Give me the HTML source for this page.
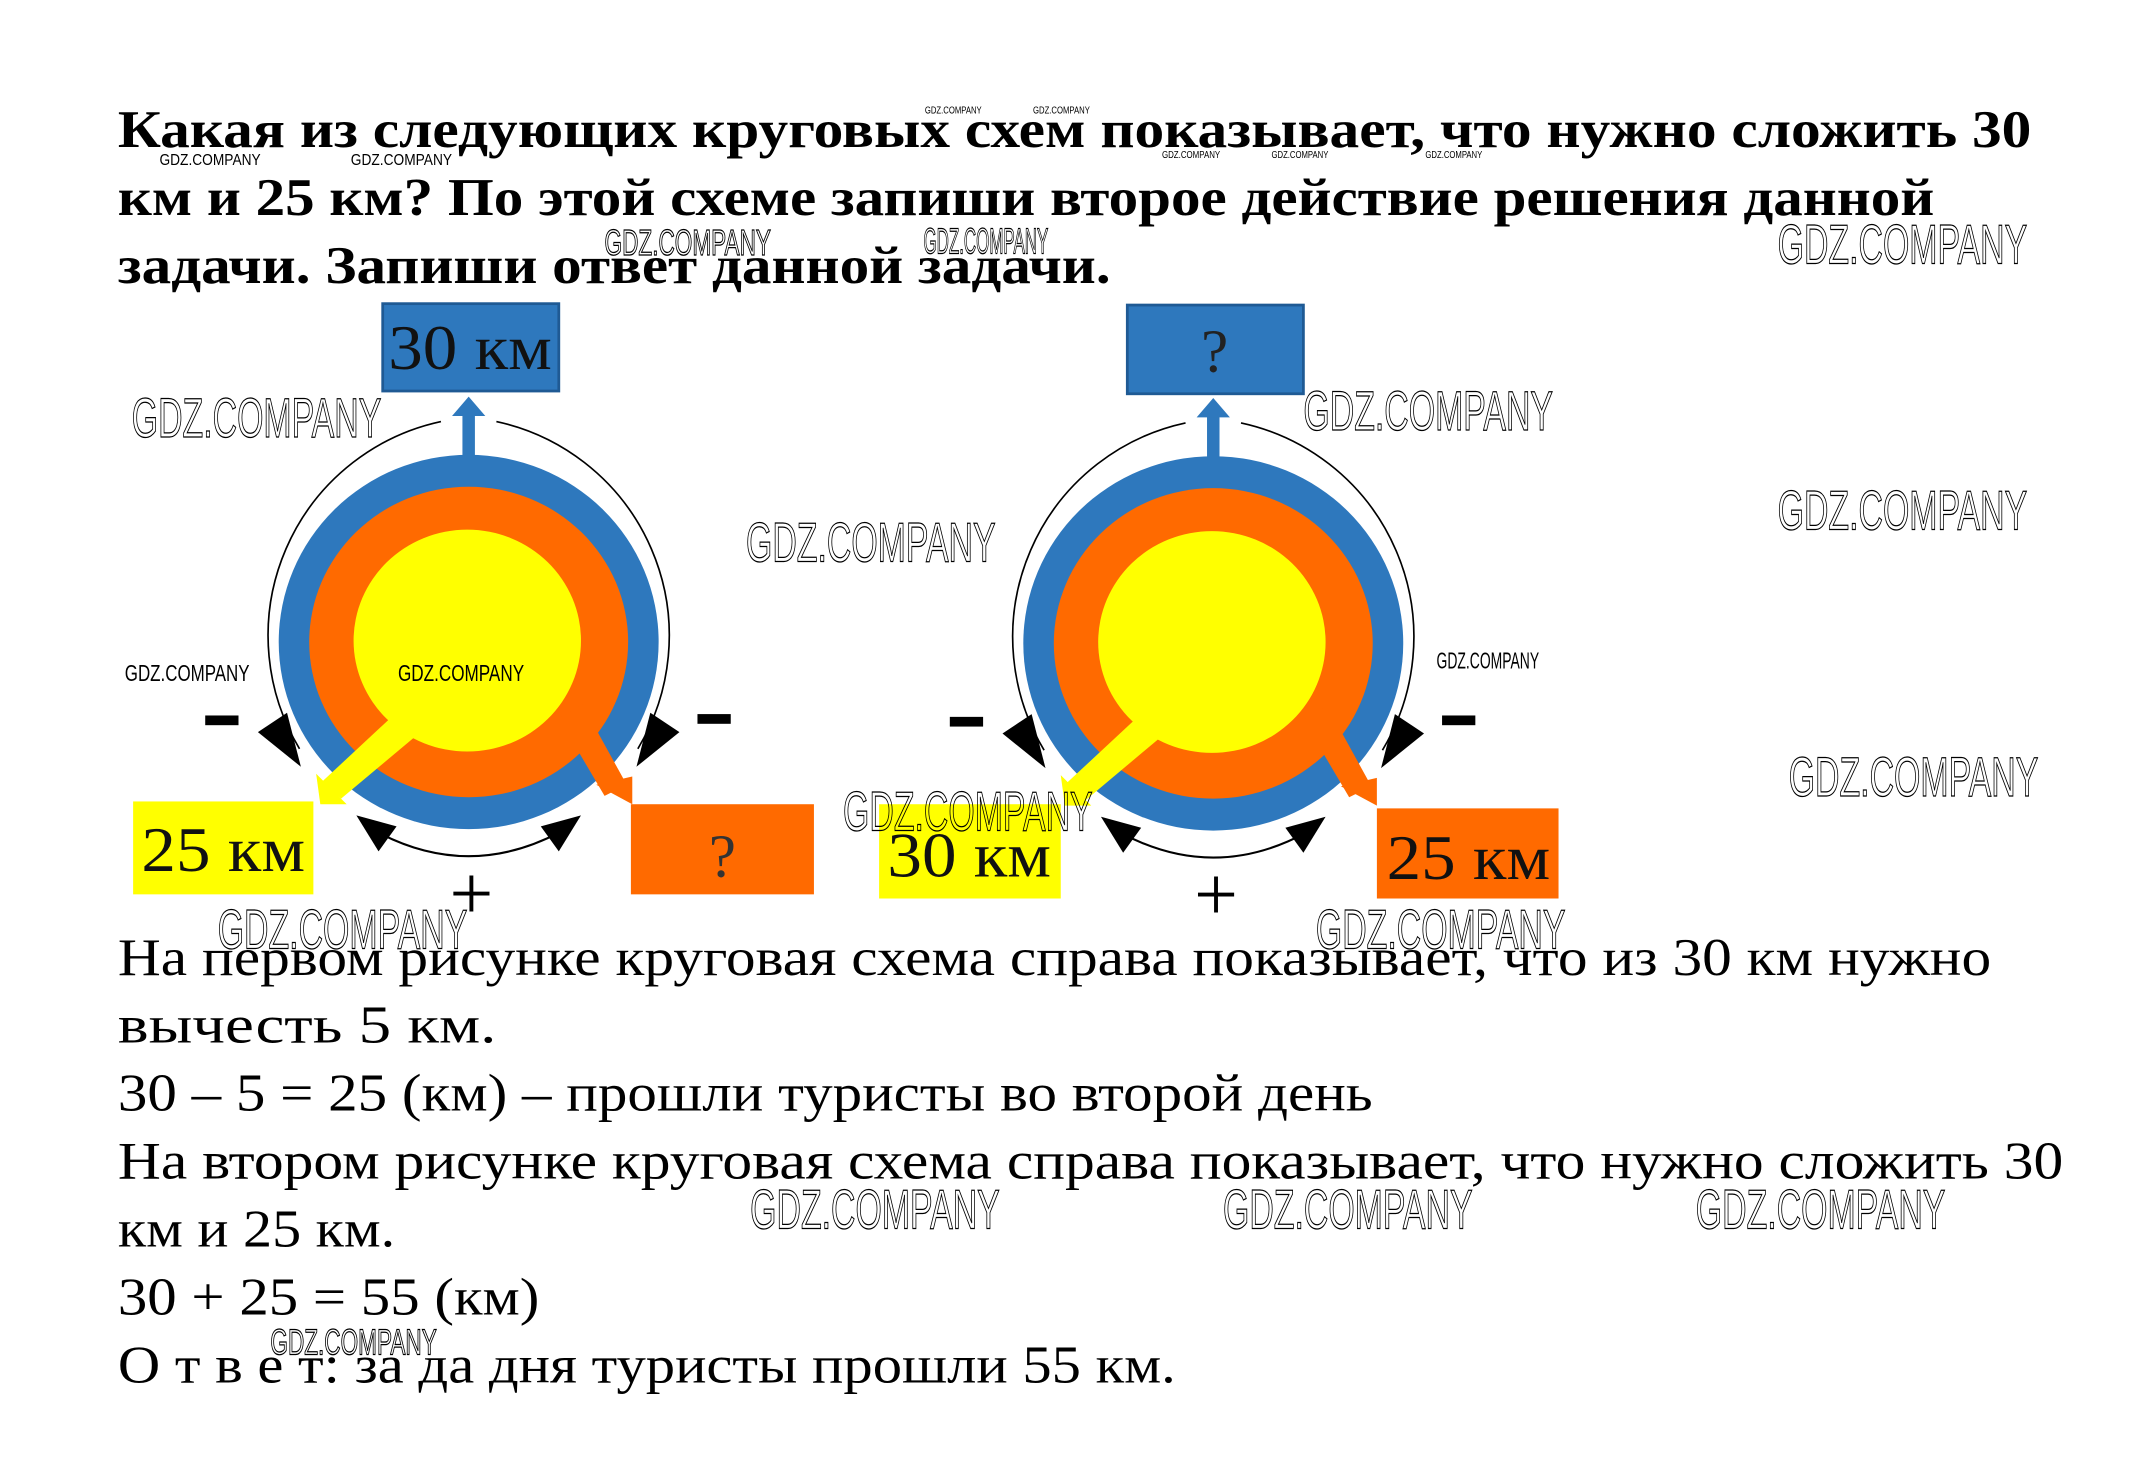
<!DOCTYPE html>
<html><head><meta charset="utf-8"><style>
html,body{margin:0;padding:0;background:#fff;}
svg{display:block;}
.t{font-family:"Liberation Serif","Noto Serif CJK SC",serif;}
.w{font-family:"Liberation Sans","DejaVu Sans",sans-serif;fill:none;stroke:#000;stroke-width:0.9;}
.ws{font-family:"Liberation Sans","DejaVu Sans",sans-serif;fill:#000;}
</style></head><body>
<svg width="2152" height="1458" viewBox="0 0 1552 1051.5" xmlns="http://www.w3.org/2000/svg">
<rect width="1552" height="1051.5" fill="#fff"/>
<!-- title -->
<g class="t" font-weight="bold" font-size="38" fill="#000">
<text x="85" y="106" textLength="1380" lengthAdjust="spacingAndGlyphs">Какая из следующих круговых схем показывает, что нужно сложить 30</text>
<text x="85" y="155" textLength="1310" lengthAdjust="spacingAndGlyphs">км и 25 км? По этой схеме запиши второе действие решения данной</text>
<text x="85" y="204" textLength="716" lengthAdjust="spacingAndGlyphs">задачи. Запиши ответ данной задачи.</text>
</g>
<!-- diagram template -->
<defs>
<g id="dg">
<line x1="338" y1="330" x2="338" y2="298" stroke="#2e78bd" stroke-width="9"/>
<polygon points="326,300 350,300 338,286" fill="#2e78bd"/>
<ellipse cx="338" cy="463" rx="137" ry="135" fill="#2e78bd"/>
<ellipse cx="338" cy="463" rx="115" ry="112" fill="#ff6a00"/>
<ellipse cx="337" cy="462" rx="82" ry="80" fill="#ffff00"/>
<path d="M318 304 A158 158 0 0 0 216 540" fill="none" stroke="#000" stroke-width="1.2"/>
<path d="M358 304 A158 158 0 0 1 460 540" fill="none" stroke="#000" stroke-width="1.2"/>
<polygon points="186,528 207,514 217,553" fill="#000"/>
<polygon points="490,528 469,514 459,553" fill="#000"/>
<path d="M272 600 Q338 635 404 600" fill="none" stroke="#000" stroke-width="1.5"/>
<polygon points="257,588 286,596 273,614" fill="#000"/>
<polygon points="419,588 390,596 403,614" fill="#000"/>
<rect x="148" y="516" width="24" height="7" fill="#000"/>
<rect x="503" y="515" width="24" height="7" fill="#000"/>
<text x="340" y="663" class="t" font-size="56" text-anchor="middle" fill="#000">+</text>
<polygon points="290,510 308,524 246,576 232,564" fill="#ffff00"/>
<polygon points="228,558 250,580 231,580" fill="#ffff00"/>
<polygon points="403,518 420,508 452,566 436,574" fill="#ff6a00"/>
<polygon points="430,566 456,560 456,580" fill="#ff6a00"/>
</g>
</defs>
<use href="#dg"/>
<use href="#dg" transform="translate(537,1)"/>
<!-- boxes left -->
<rect x="276" y="219" width="127" height="63" fill="#2e78bd" stroke="#1f5a94" stroke-width="2"/>
<text x="339" y="266" class="t" font-size="46" text-anchor="middle" fill="#111" textLength="118" lengthAdjust="spacingAndGlyphs">30 км</text>
<rect x="96" y="578" width="130" height="67" fill="#ffff00"/>
<text x="161" y="628" class="t" font-size="46" text-anchor="middle" fill="#111" textLength="118" lengthAdjust="spacingAndGlyphs">25 км</text>
<rect x="455" y="580" width="132" height="65" fill="#ff6a00"/>
<text x="521" y="632" class="t" font-size="44" text-anchor="middle" fill="#333">?</text>
<!-- boxes right -->
<rect x="813" y="220" width="127" height="64" fill="#2e78bd" stroke="#1f5a94" stroke-width="2"/>
<text x="876" y="268" class="t" font-size="44" text-anchor="middle" fill="#222">?</text>
<rect x="634" y="580" width="131" height="68" fill="#ffff00"/>
<text x="699" y="632" class="t" font-size="46" text-anchor="middle" fill="#111" textLength="118" lengthAdjust="spacingAndGlyphs">30 км</text>
<rect x="993" y="583" width="131" height="65" fill="#ff6a00"/>
<text x="1059" y="634" class="t" font-size="46" text-anchor="middle" fill="#111" textLength="118" lengthAdjust="spacingAndGlyphs">25 км</text>
<!-- body text -->
<g class="t" font-size="38" fill="#000">
<text x="85" y="703" textLength="1351" lengthAdjust="spacingAndGlyphs">На первом рисунке круговая схема справа показывает, что из 30 км нужно</text>
<text x="85" y="752" textLength="273" lengthAdjust="spacingAndGlyphs">вычесть 5 км.</text>
<text x="85" y="801" textLength="905" lengthAdjust="spacingAndGlyphs">30 – 5 = 25 (км) – прошли туристы во второй день</text>
<text x="85" y="850" textLength="1403" lengthAdjust="spacingAndGlyphs">На втором рисунке круговая схема справа показывает, что нужно сложить 30</text>
<text x="85" y="899" textLength="200" lengthAdjust="spacingAndGlyphs">км и 25 км.</text>
<text x="85" y="948" textLength="304" lengthAdjust="spacingAndGlyphs">30 + 25 = 55 (км)</text>
<text x="85" y="997" textLength="763" lengthAdjust="spacingAndGlyphs">О т в е т: за да дня туристы прошли 55 км.</text>
</g>
<!-- watermarks large -->
<g class="w" font-size="40">
<text x="95" y="315" textLength="180" lengthAdjust="spacingAndGlyphs">GDZ.COMPANY</text>
<text x="538" y="405" textLength="180" lengthAdjust="spacingAndGlyphs">GDZ.COMPANY</text>
<text x="940" y="310" textLength="180" lengthAdjust="spacingAndGlyphs">GDZ.COMPANY</text>
<text x="1282" y="190" textLength="180" lengthAdjust="spacingAndGlyphs">GDZ.COMPANY</text>
<text x="1282" y="382" textLength="180" lengthAdjust="spacingAndGlyphs">GDZ.COMPANY</text>
<text x="1290" y="574" textLength="180" lengthAdjust="spacingAndGlyphs">GDZ.COMPANY</text>
<text x="608" y="599" textLength="180" lengthAdjust="spacingAndGlyphs">GDZ.COMPANY</text>
<text x="157" y="684" textLength="180" lengthAdjust="spacingAndGlyphs">GDZ.COMPANY</text>
<text x="949" y="684" textLength="180" lengthAdjust="spacingAndGlyphs">GDZ.COMPANY</text>
<text x="541" y="886" textLength="180" lengthAdjust="spacingAndGlyphs">GDZ.COMPANY</text>
<text x="882" y="886" textLength="180" lengthAdjust="spacingAndGlyphs">GDZ.COMPANY</text>
<text x="1223" y="886" textLength="180" lengthAdjust="spacingAndGlyphs">GDZ.COMPANY</text>
</g>
<g class="w" font-size="26" stroke-width="0.7">
<text x="436" y="184" textLength="120" lengthAdjust="spacingAndGlyphs">GDZ.COMPANY</text>
<text x="666" y="183" textLength="90" lengthAdjust="spacingAndGlyphs">GDZ.COMPANY</text>
<text x="195" y="977" textLength="120" lengthAdjust="spacingAndGlyphs">GDZ.COMPANY</text>
</g>
<g class="ws" font-size="17">
<text x="90" y="491" textLength="90" lengthAdjust="spacingAndGlyphs">GDZ.COMPANY</text>
<text x="287" y="491" textLength="91" lengthAdjust="spacingAndGlyphs">GDZ.COMPANY</text>
<text x="1036" y="482" textLength="74" lengthAdjust="spacingAndGlyphs">GDZ.COMPANY</text>
</g>
<g class="ws" font-size="11">
<text x="115" y="119" textLength="73" lengthAdjust="spacingAndGlyphs">GDZ.COMPANY</text>
<text x="253" y="119" textLength="73" lengthAdjust="spacingAndGlyphs">GDZ.COMPANY</text>
</g>
<g class="ws" font-size="7">
<text x="667" y="82" textLength="41" lengthAdjust="spacingAndGlyphs">GDZ.COMPANY</text>
<text x="745" y="82" textLength="41" lengthAdjust="spacingAndGlyphs">GDZ.COMPANY</text>
<text x="838" y="114" textLength="42" lengthAdjust="spacingAndGlyphs">GDZ.COMPANY</text>
<text x="917" y="114" textLength="41" lengthAdjust="spacingAndGlyphs">GDZ.COMPANY</text>
<text x="1028" y="114" textLength="41" lengthAdjust="spacingAndGlyphs">GDZ.COMPANY</text>
</g>
</svg>
</body></html>
